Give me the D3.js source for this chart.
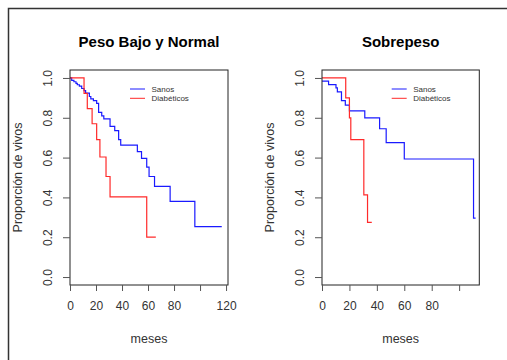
<!DOCTYPE html>
<html>
<head>
<meta charset="utf-8">
<script src="https://cdn.jsdelivr.net/npm/d3@7"></script>
<style>
  body { margin: 0; background: #fff; }
  svg { display: block; font-family: 'Liberation Sans', Arial, sans-serif; }
</style>
</head>
<body>
<div id="chart"></div>
<script>
// data: [months, proportion alive]
const titles = ['Peso Bajo y Normal', 'Sobrepeso']
const seriesNames = ['Sanos', 'Diabéticos']

const normalSanos = [[0,1],[1.3,0.988],[3,0.981],[4.6,0.973],[5.6,0.966],[7.2,0.959],[9,0.947],[10.8,0.936],[12,0.924],[14.9,0.907],[16,0.895],[18,0.886],[20.5,0.872],[22,0.827],[24.4,0.81],[26,0.794],[30.8,0.757],[34.4,0.735],[37.4,0.69],[39,0.663],[51.8,0.63],[55,0.596],[59,0.552],[60.8,0.505],[65,0.455],[77,0.38],[96,0.253],[116.7,0.253]]
const normalDiab = [[0,1],[10.8,0.923],[13.3,0.846],[17,0.77],[20.5,0.69],[23,0.603],[27.7,0.505],[30.8,0.403],[59,0.2],[66,0.2]]

const sobreSanos = [[0,0.984],[4.8,0.967],[10.2,0.95],[11.2,0.93],[14.2,0.886],[17,0.864],[20,0.835],[31.2,0.8],[42,0.745],[46.8,0.675],[60,0.593],[110.5,0.296],[112,0.296]]
const sobreDiab = [[0,1],[17.3,0.9],[20,0.8],[21,0.69],[30.5,0.413],[33.2,0.275],[36.3,0.275]]

const xTicks = [0, 20, 40, 60, 80, 100, 120]
const xLabels1 = ['0', '20', '40', '60', '80', '', '120']
const xLabels2 = ['0', '20', '40', '60', '80', '']
const yTicks = [0, 0.2, 0.4, 0.6, 0.8, 1.0]

const width = 507
const height = 360

const svg = d3.select('#chart')
  .append('svg')
  .attr('width', width)
  .attr('height', height)

// outer frame
svg.append('rect')
  .attr('x', 8.5).attr('y', 8.5)
  .attr('width', width + 10).attr('height', height + 10)
  .attr('fill', 'none')
  .attr('stroke', '#333')
  .attr('stroke-width', 1.5)

const panels = [
  { title: titles[0], left: 70, right: 228, xmax: 121.5, ticks: xTicks, labels: xLabels1, sanos: normalSanos, diab: normalDiab, legendX: 130 },
  { title: titles[1], left: 322, right: 479.3, xmax: 114.7, ticks: xTicks.slice(0, 6), labels: xLabels2, sanos: sobreSanos, diab: sobreDiab, legendX: 391.7 }
]

const plotTop = 70
const plotBottom = 285

panels.forEach(p => {
  const x = d3.scaleLinear().domain([0, p.xmax]).range([p.left, p.right])
  const y = d3.scaleLinear().domain([-0.04, 1.04]).range([plotBottom, plotTop])
  const g = svg.append('g')

  const line = d3.line()
    .x(d => x(d[0]))
    .y(d => y(d[1]))
    .curve(d3.curveStepAfter)

  g.append('path')
    .attr('d', line(p.sanos))
    .attr('fill', 'none')
    .attr('stroke', '#1a1aff')
    .attr('stroke-width', 1.2)

  g.append('path')
    .attr('d', line(p.diab))
    .attr('fill', 'none')
    .attr('stroke', '#ff2a2a')
    .attr('stroke-width', 1.2)

  // box
  g.append('rect')
    .attr('x', p.left).attr('y', plotTop)
    .attr('width', p.right - p.left).attr('height', plotBottom - plotTop)
    .attr('fill', 'none')
    .attr('stroke', '#222')
    .attr('stroke-width', 1)

  // x axis
  const xAxis = d3.axisBottom(x)
    .tickValues(p.ticks)
    .tickSize(6)
    .tickPadding(10)
    .tickFormat((d, i) => p.labels[i])
  const xa = g.append('g')
    .attr('transform', `translate(0,${plotBottom})`)
    .call(xAxis)
  xa.select('.domain').remove()
  xa.selectAll('line').attr('stroke', '#555')
  xa.selectAll('text')
    .attr('fill', '#333')
    .style('font-size', '12px')

  // y axis
  const yAxis = d3.axisLeft(y)
    .tickValues(yTicks)
    .tickSize(7)
    .tickFormat(d3.format('.1f'))
  const ya = g.append('g')
    .attr('transform', `translate(${p.left},0)`)
    .call(yAxis)
  ya.select('.domain').remove()
  ya.selectAll('line').attr('stroke', '#555')
  ya.selectAll('text')
    .attr('fill', '#333')
    .style('font-size', '12px')
    .attr('text-anchor', 'middle')
    .attr('x', null).attr('dy', null)
    .attr('transform', `translate(${-22},0) rotate(-90)`)
    .attr('dominant-baseline', 'central')

  // title
  g.append('text')
    .attr('x', (p.left + p.right) / 2)
    .attr('y', 47)
    .attr('text-anchor', 'middle')
    .style('font-size', '15px')
    .style('font-weight', 'bold')
    .attr('fill', '#000')
    .text(p.title)

  // axis titles
  g.append('text')
    .attr('x', (p.left + p.right) / 2)
    .attr('y', 343)
    .attr('text-anchor', 'middle')
    .style('font-size', '12.5px')
    .attr('fill', '#333')
    .text('meses')

  g.append('text')
    .attr('transform', `translate(${p.left - 52},${(plotTop + plotBottom) / 2}) rotate(-90)`)
    .attr('text-anchor', 'middle')
    .attr('dominant-baseline', 'central')
    .style('font-size', '12.5px')
    .attr('fill', '#333')
    .text('Proporción de vivos')

  // legend
  const legend = g.append('g')
  const colors = ['#1a1aff', '#ff2a2a']
  seriesNames.forEach((name, i) => {
    const ly = 89 + i * 9.3
    legend.append('line')
      .attr('x1', p.legendX).attr('x2', p.legendX + 15)
      .attr('y1', ly).attr('y2', ly)
      .attr('stroke', colors[i])
      .attr('stroke-width', 1)
    legend.append('text')
      .attr('x', p.legendX + 21.5)
      .attr('y', ly)
      .attr('dominant-baseline', 'central')
      .style('font-size', '8px')
      .attr('fill', '#333')
      .text(name)
  })
})
</script>
</body>
</html>
